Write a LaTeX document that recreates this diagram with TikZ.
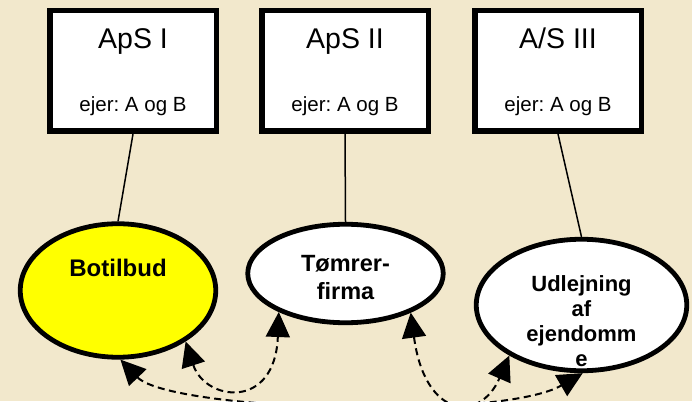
\documentclass[tikz,border=0pt]{standalone}
\usepackage{fontspec}
\setmainfont{Liberation Sans}
\frenchspacing
\usetikzlibrary{shapes.geometric,arrows.meta}
\definecolor{parchment}{RGB}{242,232,204}
\definecolor{sunny}{RGB}{255,255,0}
\tikzset{
  firm/.style={draw,line width=5.5pt,fill=white,minimum width=166.5pt,minimum height=120.5pt,inner sep=0pt},
  firmname/.style={anchor=base,font=\fontsize{28.5}{34}\selectfont},
  owner/.style={anchor=base,font=\fontsize{20.5}{24}\selectfont},
  bubble/.style={draw,ellipse,line width=4.8pt,fill=white,inner sep=0pt},
  bubtxt/.style={align=center,font=\bfseries},
  link/.style={line width=1.5pt},
  flow/.style={line width=2pt,dash pattern=on 7pt off 4.5pt,<->,>={Triangle[length=25pt,width=24pt]}}
}
\begin{document}
\begin{tikzpicture}[x=1pt,y=1pt]
\clip (0,0) rectangle (692,401);
\fill[parchment] (0,0) rectangle (692,401);
% selskaberne
\node[firm] (aps1) at (133,330) {};
\node[firm] (aps2) at (345,330) {};
\node[firm] (aps3) at (558,330) {};
\node[firmname] (aps1t) at ([yshift=-41pt]aps1.north) {ApS I};
\node[firmname] (aps2t) at ([yshift=-41pt]aps2.north) {ApS II};
\node[firmname] (aps3t) at ([yshift=-41pt]aps3.north) {A/S III};
\node[owner] (aps1o) at ([yshift=22.3pt]aps1.south) {ejer: A og B};
\node[owner] (aps2o) at ([yshift=22.3pt]aps2.south) {ejer: A og B};
\node[owner] (aps3o) at ([yshift=22.3pt]aps3.south) {ejer: A og B};
% virksomhederne
\node[bubble,fill=sunny,minimum width=195.5pt,minimum height=133.5pt] (bot) at (118,110.5) {};
\node[bubble,minimum width=195.5pt,minimum height=98.5pt] (tom) at (345.5,127.5) {};
\node[bubble,minimum width=210.5pt,minimum height=131.5pt] (udl) at (581.5,96) {};
\node[bubtxt,anchor=base,font=\bfseries\fontsize{24}{28}\selectfont] (bott) at (118,124.3) {Botilbud};
\node[bubtxt,font=\bfseries\fontsize{23.5}{28}\selectfont] (tomt) at (345.5,123.4) {Tømrer-\\firma};
\node[bubtxt,font=\bfseries\fontsize{22}{25}\selectfont] (udlt) at (581.5,80) {Udlejning\\af\\ejendomm\\e};
% ejerforhold
\draw[link] (aps1.south) -- (bot.north);
\draw[link] (aps2.south) -- (tom.north);
\draw[link] (aps3.south) -- (udl.north);
% samhandel
\draw[flow] (bot.-37) .. controls (205,0) and (275,-10) .. (tom.-150);
\draw[flow] (tom.-31) .. controls (425,-18) and (480,-22) .. (udl.-145);
\draw[flow] (bot.-88) .. controls (170,-10) and (500,-20) .. (udl.-89);
\end{tikzpicture}
\end{document}
